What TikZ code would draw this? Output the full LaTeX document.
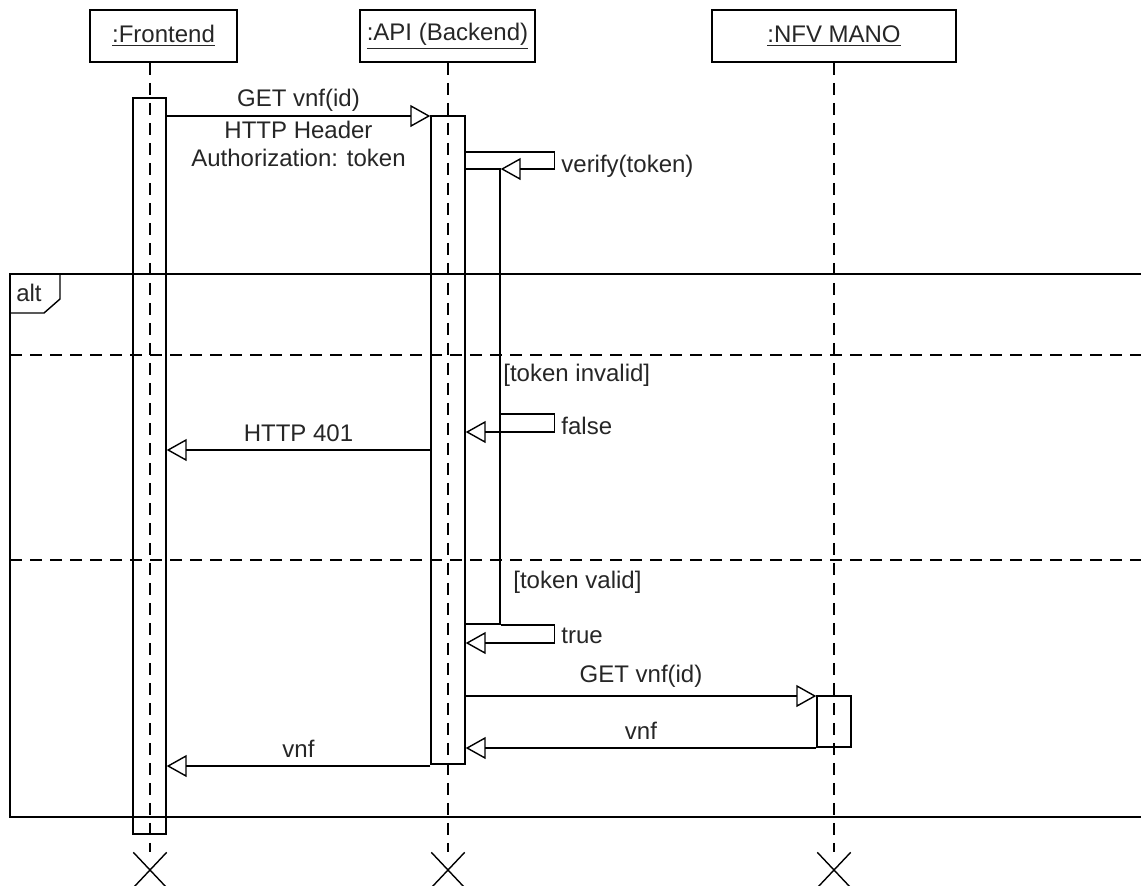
\documentclass[tikz,border=0pt]{standalone}
\usepackage{fontspec}
\setmainfont{Liberation Sans}
\usetikzlibrary{arrows.meta,positioning,fit,shapes.misc}

\tikzset{
  obj/.style={draw, line width=0.8pt, inner sep=0pt},
  act/.style={draw, line width=0.7pt, inner sep=0pt},
  life/.style={line width=0.7pt, dash pattern=on 6pt off 4pt},
  msg/.style={line width=0.7pt, -{Triangle[open, length=10pt, width=11pt]}},
  lbl/.style={font=\fontsize{12}{14}\selectfont, text=black!85, inner sep=1pt},
  endx/.style={cross out, draw, line width=0.7pt, minimum width=16pt, minimum height=17pt, inner sep=0pt},
}

\begin{document}
\begin{tikzpicture}[x=0.5pt, y=-0.5pt]
\useasboundingbox (0,0) rectangle (1141,885);

% Objects
\node[obj, fit={(90,10) (237,62)}, label={[lbl]center:\underline{:Frontend}}] (fe) {};
\node[obj, fit={(360,10) (535,62)}, label={[lbl]center:\underline{:API (Backend)}}] (api) {};
\node[obj, fit={(712,10) (956,62)}, label={[lbl]center:\underline{:NFV MANO}}] (nfv) {};

% Activation bars
\node[act, fit={(133,98) (166,834)}] (feact) {};
\node[act, fit={(431,116) (465,764)}] (apiact) {};
\node[act, fit={(465,169) (500,624)}] (vact) {};
\node[act, fit={(817,696) (851,747)}] (nfvact) {};

% Destruction marks and lifelines
\node[endx] (feX) at (150,870) {};
\node[endx] (apiX) at (448,870) {};
\node[endx] (nfvX) at (834,870) {};
\draw[life] (feX |- fe.south) -- (feX.north);
\draw[life] (apiX |- api.south) -- (apiX.north);
\draw[life] (nfvX |- nfv.south) -- (nfvX.north);

% alt fragment
\draw[line width=0.8pt] (10,274) rectangle (1160,817);
\draw[line width=0.7pt] (10,313) -- (44,313) -- (60,299) -- (60,274);
\node[lbl] (alt) at (29,293) {alt};
\draw[life] (10,355) -- (1141,355);
\draw[life] (10,560) -- (1141,560);
\node[lbl, anchor=west] (g1) at (501,375) {[token invalid]};
\node[lbl, anchor=west] (g2) at (511,582) {[token valid]};

% Message rows
\coordinate (m1) at (0,116);
\coordinate (v1) at (0,152);
\coordinate (v2) at (0,169);
\coordinate (f1) at (0,414);
\coordinate (f2) at (0,432);
\coordinate (r1) at (0,450);
\coordinate (t1) at (0,625);
\coordinate (t2) at (0,643);
\coordinate (m2) at (0,696);
\coordinate (r2) at (0,748);
\coordinate (r3) at (0,766);

% Messages
\draw[msg] (feact.east |- m1) -- (apiact.west |- m1)
  node[lbl, midway, above=1pt] {GET vnf(id)}
  node[lbl, midway, below=1pt, align=center] {HTTP Header\\Authorization: token};
\draw[msg] (apiact.east |- v1) -- ++(89,0) node[lbl, anchor=north west, xshift=2pt] {verify(token)}
  |- (vact.east |- v2);
\draw[msg] (vact.east |- f1) -- ++(54,0) node[lbl, anchor=north west, xshift=2pt] {false}
  |- (apiact.east |- f2);
\draw[msg] (apiact.west |- r1) -- (feact.east |- r1) node[lbl, midway, above=3pt] {HTTP 401};
\draw[msg] (vact.east |- t1) -- ++(54,0) node[lbl, anchor=north west, xshift=2pt] {true}
  |- (apiact.east |- t2);
\draw[msg] (apiact.east |- m2) -- (nfvact.west |- m2) node[lbl, midway, above=3pt] {GET vnf(id)};
\draw[msg] (nfvact.west |- r2) -- (apiact.east |- r2) node[lbl, midway, above=3pt] {vnf};
\draw[msg] (apiact.west |- r3) -- (feact.east |- r3) node[lbl, midway, above=3pt] {vnf};

\end{tikzpicture}
\end{document}
